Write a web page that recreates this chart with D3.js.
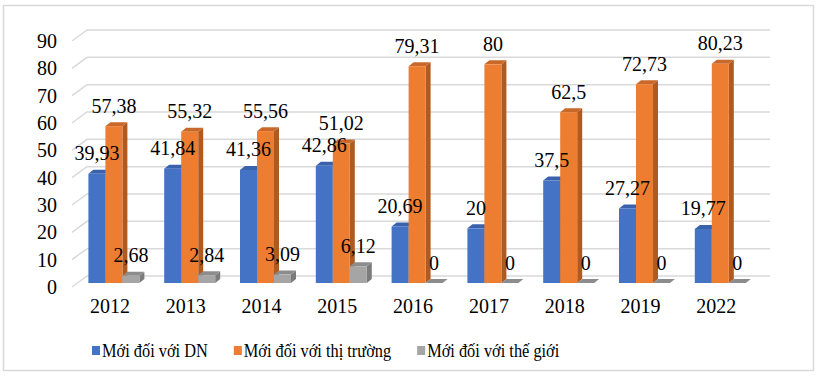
<!DOCTYPE html>
<html lang="vi">
<head>
<meta charset="utf-8">
<title>Mới đối với DN / thị trường / thế giới</title>
<script src="https://cdn.jsdelivr.net/npm/d3@7"></script>
<style>
  body { margin: 0; background: #fff; }
</style>
</head>
<body>
<div id="chart"></div>
<script>
// data
let categories = ["2012", "2013", "2014", "2015", "2016", "2017", "2018", "2019", "2022"];
let seriesNames = ["Mới đối với DN", "Mới đối với thị trường", "Mới đối với thế giới"];
let moiDN = [39.93, 41.84, 41.36, 42.86, 20.69, 20, 37.5, 27.27, 19.77];
let moiThiTruong = [57.38, 55.32, 55.56, 51.02, 79.31, 80, 62.5, 72.73, 80.23];
let moiTheGioi = [2.68, 2.84, 3.09, 6.12, 0, 0, 0, 0, 0];
let yTicks = [0, 10, 20, 30, 40, 50, 60, 70, 80, 90];

let w = 818;
let h = 381;
let font = "'Liberation Serif', 'DejaVu Serif', serif";

// colours: front, side, top
let colors = [
  { front: "#4472C4", side: "#2F528F", top: "#3A62AC" },
  { front: "#ED7D31", side: "#AE5A21", top: "#C8682A" },
  { front: "#A5A5A5", side: "#7B7B7B", top: "#8C8C8C" }
];

let values = [moiDN, moiThiTruong, moiTheGioi];

// 3d offsets
let depth = { dx: 5, dy: -4 };   // bar depth
let front = { dx: -15, dy: 11 }; // wall -> front edge of floor
let barDrop = 7;                 // bar front plane below back wall

let svg = d3.select("#chart").append("svg")
  .attr("width", w)
  .attr("height", h)
  .attr("font-family", font);

// outer frame
svg.append("rect")
  .attr("x", 3.5).attr("y", 5.5)
  .attr("width", 810).attr("height", 365)
  .attr("fill", "none")
  .attr("stroke", "#d9d9d9")
  .attr("stroke-width", 1.5);

let yScale = d3.scaleLinear().domain([0, 90]).range([276, 30]);
let xScale = d3.scaleBand().domain(categories).range([76, 758.2]).padding(0);
let inner = d3.scaleBand().domain(d3.range(3)).range([0, 51]);
let groupOff = (xScale.bandwidth() - 51) / 2;
let wallLeft = 87, wallRight = 770;

// gridlines with slanted left part
let grid = svg.append("g");
yTicks.forEach(function(t) {
  let y = yScale(t);
  grid.append("path")
    .attr("d", "M" + (wallLeft + front.dx) + "," + (y + front.dy) + "L" + wallLeft + "," + y + "H" + wallRight)
    .attr("fill", "none")
    .attr("stroke", "#d9d9d9")
    .attr("stroke-width", 1.5);
  grid.append("text")
    .attr("x", 57)
    .attr("y", y + front.dy)
    .attr("dy", "0.35em")
    .attr("text-anchor", "end")
    .style("font-family", font)
    .style("font-size", "20px")
    .text(t);
});

function fmt(v) {
  return String(v).replace(".", ",");
}

let yFront = (v) => yScale(v) + barDrop;

let bars = svg.append("g");
categories.forEach(function(c, i) {
  for (let s = 0; s < 3; s++) {
    let v = values[s][i];
    let x0 = xScale(c) + groupOff + inner(s);
    let x1 = x0 + inner.bandwidth();
    let yt = yFront(v);
    let yb = yFront(0);
    let col = colors[s];
    // side
    bars.append("path")
      .attr("d", "M" + x1 + "," + yb + "L" + x1 + "," + yt +
        "L" + (x1 + depth.dx) + "," + (yt + depth.dy) +
        "L" + (x1 + depth.dx) + "," + (yb + depth.dy) + "Z")
      .attr("fill", col.side);
    // top
    bars.append("path")
      .attr("d", "M" + x0 + "," + yt + "L" + x1 + "," + yt +
        "L" + (x1 + depth.dx) + "," + (yt + depth.dy) +
        "L" + (x0 + depth.dx) + "," + (yt + depth.dy) + "Z")
      .attr("fill", col.top);
    // front
    bars.append("rect")
      .attr("x", x0).attr("y", yt)
      .attr("width", inner.bandwidth())
      .attr("height", yb - yt)
      .attr("fill", col.front);
  }
});

// value labels
let labels = svg.append("g");
categories.forEach(function(c, i) {
  for (let s = 0; s < 3; s++) {
    let v = values[s][i];
    let x0 = xScale(c) + groupOff + inner(s);
    labels.append("text")
      .attr("x", x0 + inner.bandwidth() / 2)
      .attr("y", yFront(v) - 13.5)
      .attr("text-anchor", "middle")
      .style("font-family", font)
      .style("font-size", "20px")
      .text(fmt(v));
  }
});

// category labels
svg.append("g").selectAll("text")
  .data(categories)
  .enter()
  .append("text")
  .attr("x", (d) => xScale(d) + xScale.bandwidth() / 2 - 4)
  .attr("y", 312.5)
  .attr("text-anchor", "middle")
  .style("font-family", font)
  .style("font-size", "20px")
  .text((d) => d);

// legend
let legend = svg.append("g");
let lx = 92;
seriesNames.forEach(function(name, s) {
  legend.append("rect")
    .attr("x", lx).attr("y", 346)
    .attr("width", 8).attr("height", 9)
    .attr("fill", colors[s].front);
  let t = legend.append("text")
    .attr("x", lx + 10)
    .attr("y", 357)
    .style("font-family", font)
    .style("font-size", "19px")
    .text(name);
  let len = t.node().getComputedTextLength() * 0.86;
  t.attr("textLength", len).attr("lengthAdjust", "spacingAndGlyphs");
  lx += 10 + len + 26;
});
</script>
</body>
</html>
